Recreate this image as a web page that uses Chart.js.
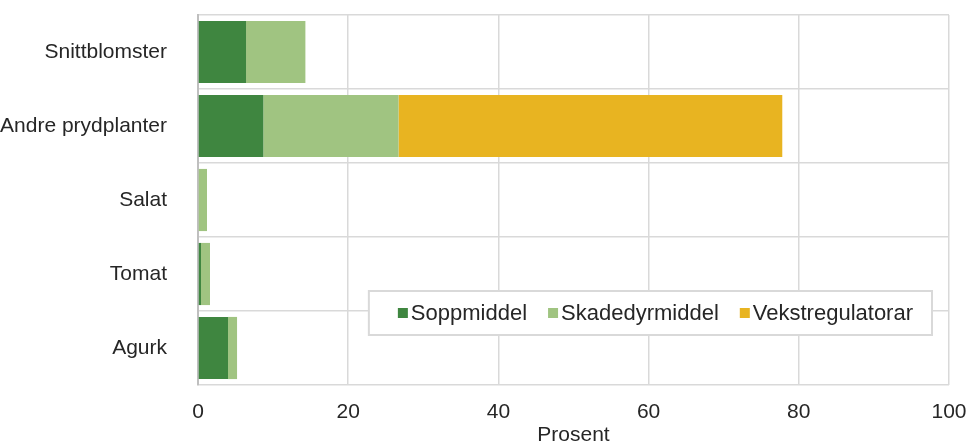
<!DOCTYPE html>
<html>
<head>
<meta charset="utf-8">
<script src="https://cdn.jsdelivr.net/npm/chart.js@4/dist/chart.umd.min.js"></script>
<style>
  html, body { margin: 0; padding: 0; background: #ffffff; }
  #wrap { width: 973px; height: 443px; position: relative; }
</style>
</head>
<body>
<div id="wrap"><canvas id="c" width="973" height="443"></canvas></div>
<script>
const categories = ["Snittblomster", "Andre prydplanter", "Salat", "Tomat", "Agurk"];
const soppmiddel = [6.4, 8.7, 0.1, 0.4, 4.0];
const skadedyrmiddel = [7.9, 18.0, 1.1, 1.2, 1.2];
const vekstregulatorar = [0, 51.1, 0, 0, 0];
const seriesNames = ["Soppmiddel", "Skadedyrmiddel", "Vekstregulatorar"];
const xTicks = [0, 20, 40, 60, 80, 100];
const axisTitle = "Prosent";

const colors = ["#3f8640", "#a0c481", "#e8b421"];
const FONT = "'Liberation Sans', Arial, Helvetica, sans-serif";
const TEXT = "#262626";

function zeroPad(scale) {
  scale.paddingTop = 0; scale.paddingBottom = 0;
  scale.paddingLeft = 0; scale.paddingRight = 0;
}

const insideLegend = {
  id: "insideLegend",
  afterDraw(chart) {
    const ctx = chart.ctx;
    const ca = chart.chartArea;
    ctx.save();
    ctx.font = "22px " + FONT;
    const sq = 10, gapSq = 3, gapItem = 21, padL = 29, padR = 19;
    const widths = chart.data.datasets.map(d => ctx.measureText(d.label).width);
    let total = padL + padR;
    widths.forEach((w, i) => { total += sq + gapSq + w + (i < widths.length - 1 ? gapItem : 0); });
    const h = 44;
    const right = ca.right - 17;
    const left = right - total;
    const bottom = ca.bottom - 50;
    const top = bottom - h;
    ctx.fillStyle = "#ffffff";
    ctx.fillRect(left, top, total, h);
    ctx.strokeStyle = "#d9d9d9";
    ctx.lineWidth = 2;
    ctx.strokeRect(left, top, total, h);
    let x = left + padL;
    const cy = top + h / 2;
    chart.data.datasets.forEach((d, i) => {
      ctx.fillStyle = d.backgroundColor;
      ctx.fillRect(x, cy - sq / 2, sq, sq);
      x += sq + gapSq;
      ctx.fillStyle = TEXT;
      ctx.textBaseline = "middle";
      ctx.textAlign = "left";
      ctx.fillText(d.label, x, cy + 1);
      x += widths[i] + gapItem;
    });
    ctx.restore();
  }
};

new Chart(document.getElementById("c"), {
  type: "bar",
  data: {
    labels: categories,
    datasets: [
      { label: seriesNames[0], data: soppmiddel, backgroundColor: colors[0] },
      { label: seriesNames[1], data: skadedyrmiddel, backgroundColor: colors[1] },
      { label: seriesNames[2], data: vekstregulatorar, backgroundColor: colors[2] }
    ]
  },
  options: {
    indexAxis: "y",
    responsive: false,
    animation: false,
    devicePixelRatio: 1,
    barPercentage: 0.84,
    categoryPercentage: 1.0,
    layout: { padding: { top: 15, right: 24, left: 0, bottom: 0 } },
    plugins: {
      legend: { display: false },
      tooltip: { enabled: false }
    },
    scales: {
      x: {
        stacked: true,
        min: 0,
        max: 100,
        afterBuildTicks(scale) { scale.ticks = xTicks.map(v => ({ value: v })); },
        afterFit(scale) { scale.height = 58; zeroPad(scale); },
        grid: { color: "#d9d9d9", lineWidth: 1.5, drawTicks: false },
        border: { display: false },
        ticks: { color: TEXT, font: { family: FONT, size: 21 }, padding: 15, maxRotation: 0 },
        title: { display: true, text: axisTitle, color: TEXT, font: { family: FONT, size: 21 }, padding: { top: 0, bottom: -5 } }
      },
      y: {
        stacked: true,
        afterFit(scale) { scale.width = 198; zeroPad(scale); },
        grid: { color: "#d9d9d9", lineWidth: 1.5, drawTicks: false, offset: true },
        border: { display: true, color: "#bfbfbf", width: 2 },
        ticks: { color: TEXT, font: { family: FONT, size: 21 }, padding: 31 }
      }
    }
  },
  plugins: [insideLegend]
});
</script>
</body>
</html>
